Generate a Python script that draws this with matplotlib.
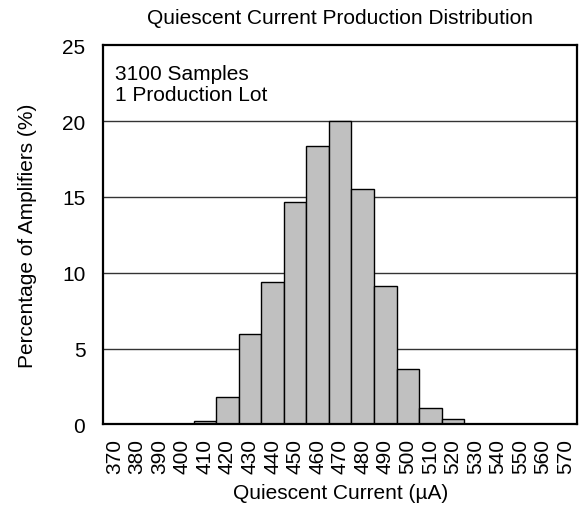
import matplotlib.pyplot as plt
import numpy as np

plt.rcParams['font.family'] = ['Liberation Sans', 'DejaVu Sans']

# histogram bins (uA) and percentage of amplifiers
bins = [370, 380, 390, 400, 410, 420, 430, 440, 450, 460, 470,
        480, 490, 500, 510, 520, 530, 540, 550, 560, 570]
percent = [0, 0, 0, 0, 0.25, 1.8, 5.93, 9.4, 14.7, 18.36, 20.0,
           15.55, 9.15, 3.63, 1.07, 0.32, 0, 0, 0, 0, 0]
y_ticks = [0, 5, 10, 15, 20, 25]

fig = plt.figure(figsize=(5.81, 5.10), dpi=100)
ax = fig.add_axes([0.178, 0.166, 0.815, 0.743])

x = np.arange(len(bins))
ax.bar(x, percent, width=1.0, color='#c0c0c0', edgecolor='black',
       linewidth=1.0, zorder=3)

ax.set_xlim(-0.5, len(bins) - 0.5)
ax.set_ylim(0, 25)
ax.set_xticks(x)
ax.set_xticklabels([str(b) for b in bins], rotation=90, fontsize=15)
ax.set_yticks(y_ticks)
ax.set_yticklabels([str(v) for v in y_ticks], fontsize=15)
ax.tick_params(axis='both', length=0)
ax.tick_params(axis='y', pad=13)
ax.tick_params(axis='x', pad=10)

for v in y_ticks[1:-1]:
    ax.axhline(v, color='#333333', linewidth=1.0, zorder=1)

for s in ax.spines.values():
    s.set_linewidth(1.6)
    s.set_zorder(4)

ax.set_title('Quiescent Current Production Distribution', fontsize=15, pad=16)
ax.set_xlabel('Quiescent Current (µA)', fontsize=15, labelpad=7)
ax.set_ylabel('Percentage of Amplifiers (%)', fontsize=15, labelpad=18)

ax.text(0.025, 0.95, '3100 Samples\n1 Production Lot', transform=ax.transAxes,
        fontsize=15, va='top', ha='left', linespacing=1.1,
        bbox=dict(facecolor='white', edgecolor='none', pad=2), zorder=5)

fig.savefig('out.png', dpi=100)
